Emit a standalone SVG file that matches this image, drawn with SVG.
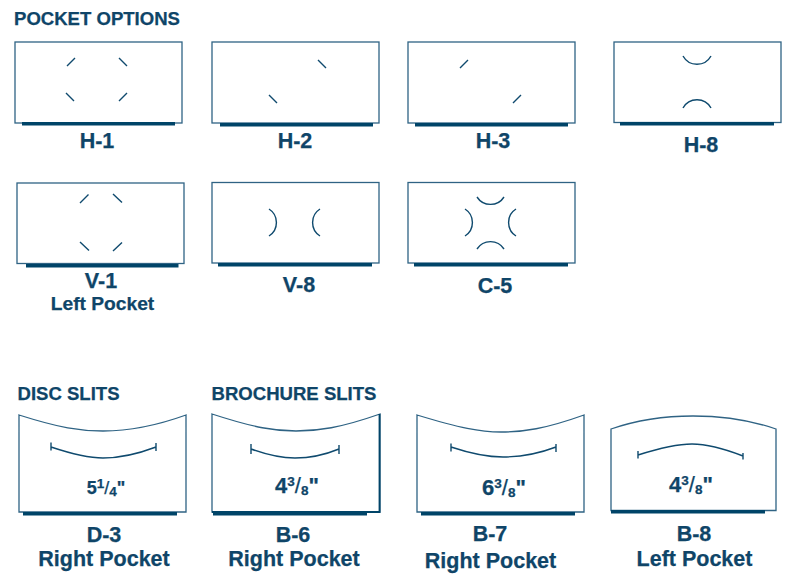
<svg xmlns="http://www.w3.org/2000/svg" width="800" height="577" viewBox="0 0 800 577">
<style>
text{font-family:"Liberation Sans",Arial,sans-serif;font-weight:700;fill:#0f4568;stroke:#0f4568;stroke-width:.25}
.h{font-size:18.500px}
.l{font-size:21.500px;text-anchor:middle}
.s{font-size:19.200px;text-anchor:middle}
.r{font-size:21.500px;text-anchor:middle}
.f{font-size:22px;text-anchor:middle}
.p{fill:#fff;stroke:#2f6384;stroke-width:1.3}
.b{fill:#004468}
.c{fill:none;stroke:#0f4a6e;stroke-width:1.4}
.u{font-size:13.500px}
.t{font-size:18px}
</style>
<text class="h" x="14" y="25" textLength="166" lengthAdjust="spacingAndGlyphs">POCKET OPTIONS</text>
<text class="h" x="17.500" y="399.500" textLength="102" lengthAdjust="spacingAndGlyphs">DISC SLITS</text>
<text class="h" x="211.500" y="399.500" textLength="165" lengthAdjust="spacingAndGlyphs">BROCHURE SLITS</text>

<g id="H-1">
<rect class="p" x="15" y="42" width="167" height="81"/>
<rect class="b" x="22" y="122" width="153" height="3.500"/>
<path class="c" d="M67 66L75 58M119 58L127 66M66 93L74 101M119 101L127 93"/>
<text class="l" x="97" y="148">H-1</text>
</g>
<g id="H-2">
<rect class="p" x="212" y="42" width="167" height="81"/>
<rect class="b" x="220" y="123" width="153" height="3.500"/>
<path class="c" d="M318 60L326 68M269 95L277 103"/>
<text class="l" x="295" y="148">H-2</text>
</g>
<g id="H-3">
<rect class="p" x="408" y="42" width="167" height="81"/>
<rect class="b" x="415" y="123" width="153" height="3.500"/>
<path class="c" d="M460 68L468 60M513 103L521 95"/>
<text class="l" x="493" y="148">H-3</text>
</g>
<g id="H-8">
<rect class="p" x="614" y="42" width="167" height="80.500"/>
<rect class="b" x="620" y="122" width="154" height="3.500"/>
<path class="c" d="M683 56A16 16 0 0 0 711 56M683 108A16 16 0 0 1 711 108"/>
<text class="l" x="701" y="152">H-8</text>
</g>
<g id="V-1">
<rect class="p" x="17" y="183" width="167" height="80.500"/>
<rect class="b" x="26" y="264" width="152.500" height="3.500"/>
<path class="c" d="M80 203L88.500 194.500M113 194L122 202.500M80 242L89 250.500M113 251L122 242.500"/>
<text class="l" x="101" y="288">V-1</text>
<text class="s" x="102.500" y="310">Left Pocket</text>
</g>
<g id="V-8">
<rect class="p" x="212" y="182.500" width="167" height="80.500"/>
<rect class="b" x="218" y="263" width="154" height="3.500"/>
<path class="c" d="M269 209A16 16 0 0 1 269 236M320 209A16 16 0 0 0 320 236"/>
<text class="l" x="299" y="292">V-8</text>
</g>
<g id="C-5">
<rect class="p" x="408" y="182.500" width="167" height="80.500"/>
<rect class="b" x="414" y="263" width="154" height="3.500"/>
<path class="c" d="M477 197A16 16 0 0 0 504 197M477 249A16 16 0 0 1 504 249M465 209A16 16 0 0 1 465 236M516 209A16 16 0 0 0 516 236"/>
<text class="l" x="495" y="293">C-5</text>
</g>

<g id="D-3">
<path class="p" d="M19 415C60 428 80 431 103 431C126 431 150 428 186 415V512H19Z"/>
<rect class="b" x="23" y="512" width="154" height="3.500"/>
<path class="c" d="M51 442.500V450.500M156 443V451M51 447C75 455 90 458 103 458C118 458 135 455 156 447"/>
<text class="f" x="106" y="494"><tspan class="t">5</tspan><tspan class="u" dy="-6">1</tspan><tspan dy="6" font-weight="400" class="t">/</tspan><tspan class="u" dy="2">4</tspan><tspan dy="-2" class="t">"</tspan></text>
<text class="l" x="104" y="542">D-3</text>
<text class="r" x="104" y="566">Right Pocket</text>
</g>
<g id="B-6">
<path class="p" d="M212 414C255 428 275 431 296 431C318 431 340 428 380 414V512H212Z"/>
<rect class="b" x="213" y="512" width="154" height="3.500"/>
<path d="M379.500 414V512H212" fill="none" stroke="#004468" stroke-width="1.800"/>
<path class="c" d="M251 444V454M339 445V454M251 449C270 456 283 458 295 458C308 458 322 456 339 449"/>
<text class="f" x="297" y="493"><tspan>4</tspan><tspan class="u" dy="-7">3</tspan><tspan dy="7" font-weight="400">/</tspan><tspan class="u" dy="2">8</tspan><tspan dy="-2">"</tspan></text>
<text class="l" x="293" y="542">B-6</text>
<text class="r" x="294" y="566">Right Pocket</text>
</g>
<g id="B-7">
<path class="p" d="M417 415C460 428 480 432 501 432C523 432 545 429 584 415V512H417Z"/>
<rect class="b" x="421" y="512" width="154" height="3.500"/>
<path class="c" d="M451 443.500V451.500M556 444V452M451 447C475 455 490 457 503 457C518 457 535 455 556 447"/>
<text class="f" x="504" y="495"><tspan>6</tspan><tspan class="u" dy="-7">3</tspan><tspan dy="7" font-weight="400">/</tspan><tspan class="u" dy="2">8</tspan><tspan dy="-2">"</tspan></text>
<text class="l" x="490" y="541">B-7</text>
<text class="r" x="490.500" y="568">Right Pocket</text>
</g>
<g id="B-8">
<path class="p" d="M611 429C640 419 670 416 693 416C720 416 750 420 776 429V510.500H611Z"/>
<rect class="b" x="611" y="510" width="154" height="3.500"/>
<path class="c" d="M638 455C660 448 678 444 692 444C708 444 725 449 743 456M638 451V458.500M743 453V459.500"/>
<text class="f" x="691" y="492"><tspan>4</tspan><tspan class="u" dy="-7">3</tspan><tspan dy="7" font-weight="400">/</tspan><tspan class="u" dy="2">8</tspan><tspan dy="-2">"</tspan></text>
<text class="l" x="694" y="541">B-8</text>
<text class="r" x="694.500" y="566">Left Pocket</text>
</g>
</svg>
